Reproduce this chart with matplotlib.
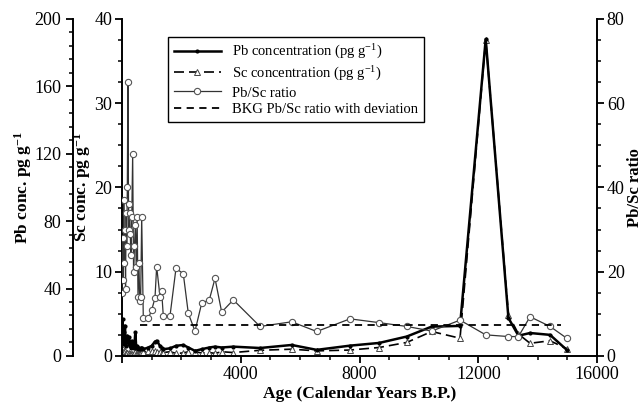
import numpy as np
import matplotlib.pyplot as plt
from matplotlib.ticker import MultipleLocator, FuncFormatter

plt.rcParams['font.family'] = ['Liberation Serif', 'DejaVu Serif']
plt.rcParams['mathtext.default'] = 'regular'

# sample ages (calendar years B.P.)
age = [0, 20, 40, 60, 80, 100, 120, 140, 160, 180, 200, 220, 240, 260, 280,
       300, 330, 360, 390, 420, 450, 480, 510, 540, 570, 600, 630, 664, 718,
       886, 1000, 1111, 1168, 1280, 1337, 1391, 1617, 1819, 2065, 2234, 2459,
       2684, 2941, 3133, 3358, 3749, 4648, 5716, 6558, 7680, 8660, 9590,
       10431, 11385, 12250, 13015, 13352, 13743, 14417, 14979]

# Pb concentration, pg/g
pb = [12, 22, 9, 14, 7, 18, 6, 10, 8, 12, 9, 7, 11, 6, 8,
      5, 9, 6, 5, 7, 14, 5, 6, 4, 5, 4, 4.5, 5, 4,
      5, 6, 8.5, 9, 6, 5, 4, 4.5, 6, 6.5, 5, 3,
      4, 5, 5.5, 5, 5.5, 4.7, 6.5, 3.6, 6.1, 7.7, 11.5,
      17.4, 17.8, 188, 22.5, 12, 13.6, 12.5, 3.6]

# Sc concentration, pg/g
sc = [0.8, 0.8, 0.5, 0.4, 0.3, 0.6, 0.4, 0.3, 0.3, 0.3, 0.15, 0.2, 0.35, 0.18, 0.28,
      0.2, 0.27, 0.13, 0.25, 0.27, 0.45, 0.24, 0.18, 0.28, 0.23, 0.3, 0.32, 0.15, 0.45,
      0.55, 0.55, 0.6, 0.45, 0.45, 0.35, 0.4, 0.5, 0.3, 0.35, 0.5, 0.5,
      0.35, 0.4, 0.3, 0.5, 0.4, 0.67, 0.8, 0.6, 0.7, 1.0, 1.6,
      2.9, 2.1, 37.5, 4.9, 2.6, 1.5, 1.8, 0.86]

# Pb/Sc ratio
ratio = [15, 28, 18, 37, 22, 30, 16, 34, 26, 40, 65, 36, 30, 34, 29,
         24, 33, 48, 20, 26, 31, 21, 33, 14, 22, 13, 14, 33, 9,
         8.9, 10.9, 13.7, 21.2, 14.1, 15.3, 9.5, 9.5, 20.8, 19.5, 10.1, 5.9,
         12.5, 13.3, 18.4, 10.4, 13.3, 7.0, 8.1, 5.8, 8.8, 7.9, 7.0,
         5.9, 8.5, 5.0, 4.6, 4.6, 9.3, 7.0, 4.2]

# background ratio
bkg_age = [600, 14800]
bkg_ratio = [7.4, 7.4]

fig = plt.figure(figsize=(6.42, 4.11), dpi=100)
ax = fig.add_axes([0.190, 0.134, 0.740, 0.820])   # Sc axis
axpb = ax.twinx()                                   # Pb axis (offset left)
axr = ax.twinx()                                    # ratio axis (right)

lr, = axr.plot(age, ratio, '-', color='#333333', lw=0.9, marker='o', ms=4.5,
               mfc='white', mec='#555555', mew=0.8, label='Pb/Sc ratio')
lb, = axr.plot(bkg_age, bkg_ratio, '--', color='black', lw=1.3, dashes=(4, 3),
               label='BKG Pb/Sc ratio with deviation')
ls, = ax.plot(age, sc, color='black', lw=1.2, dashes=(6, 3), marker='^', ms=4,
              mfc='white', mec='#444444', mew=0.7, label='Sc concentration (pg g$^{-1}$)')
lp, = axpb.plot(age, pb, '-', color='black', lw=1.8, marker='.', ms=4,
                label='Pb concentration (pg g$^{-1}$)')

ax.set_xlim(0, 16000)
ax.set_ylim(0, 40)
axpb.set_ylim(0, 200)
axr.set_ylim(0, 80)

ax.xaxis.set_major_locator(MultipleLocator(4000))
ax.xaxis.set_minor_locator(MultipleLocator(1000))
ax.xaxis.set_major_formatter(FuncFormatter(lambda v, p: '' if v == 0 else '%d' % v))
ax.yaxis.set_major_locator(MultipleLocator(10))
ax.yaxis.set_minor_locator(MultipleLocator(2.5))
axpb.yaxis.set_major_locator(MultipleLocator(40))
axpb.yaxis.set_minor_locator(MultipleLocator(8))
axr.yaxis.set_major_locator(MultipleLocator(20))
axr.yaxis.set_minor_locator(MultipleLocator(5))

# spines
for s in ['top', 'right']:
    ax.spines[s].set_visible(False)
for s in ['top', 'right', 'bottom']:
    axpb.spines[s].set_visible(False)
for s in ['top', 'left', 'bottom']:
    axr.spines[s].set_visible(False)
axpb.spines['left'].set_visible(True)
axpb.spines['left'].set_position(('axes', -0.103))
axpb.yaxis.set_ticks_position('left')
axpb.yaxis.set_label_position('left')

for a in (ax, axpb, axr):
    for sp in a.spines.values():
        sp.set_linewidth(1.4)
    a.tick_params(which='major', direction='out', length=5, width=1.3, labelsize=13)
    a.tick_params(which='minor', direction='out', length=3, width=1.1)
ax.tick_params(axis='both', pad=2)
axr.tick_params(axis='y', pad=2)

lab = dict(fontsize=12.5, fontweight='bold')
ax.set_xlabel('Age (Calendar Years B.P.)', **lab)
ax.set_ylabel('Sc conc. pg g$^{-1}$', **lab)
axpb.set_ylabel('Pb conc. pg g$^{-1}$', **lab)
axr.set_ylabel('Pb/Sc ratio', fontsize=12, fontweight='bold')
ax.xaxis.set_label_coords(0.5, -0.09)
ax.yaxis.set_label_coords(-0.06, 0.5)
axpb.yaxis.set_label_coords(-0.185, 0.5)
axr.yaxis.set_label_coords(1.064, 0.5)

leg = axr.legend(handles=[lp, ls, lr, lb], loc='upper left', bbox_to_anchor=(0.097, 0.947),
                 borderaxespad=0, fontsize=10.5, fancybox=False, framealpha=1,
                 edgecolor='black', handlelength=3.2, labelspacing=0.25)
leg.get_frame().set_linewidth(1.0)

fig.savefig('out.png', dpi=100)
